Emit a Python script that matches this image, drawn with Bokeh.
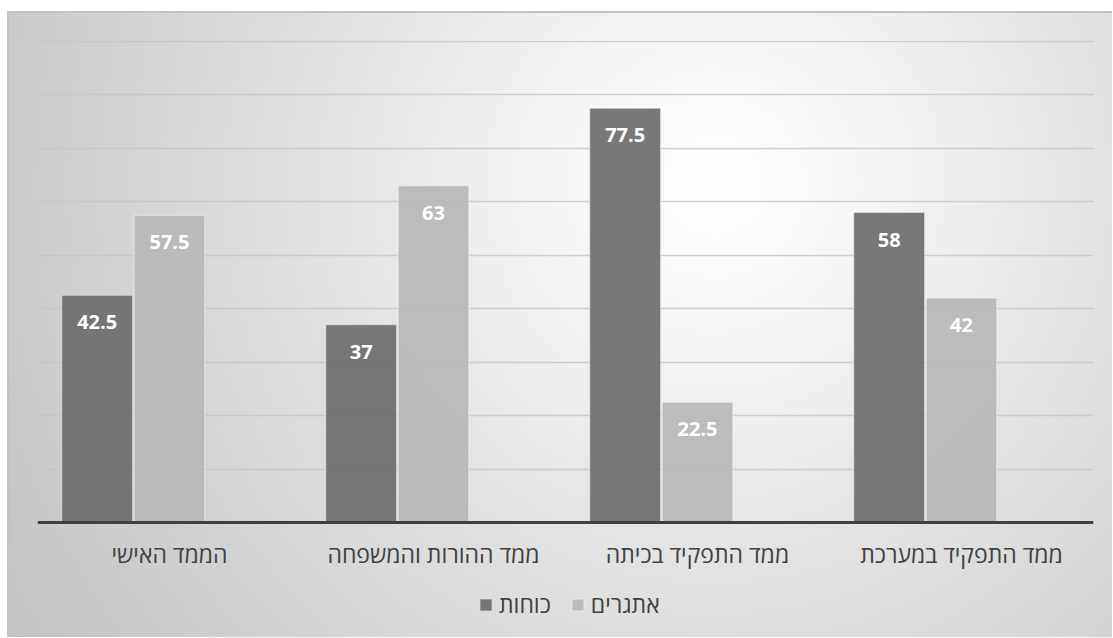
from bokeh.plotting import figure
from bokeh.models import ColumnDataSource, FactorRange, Legend, LegendItem, CategoricalAxis
from bokeh.transform import dodge
from bokeh.core.properties import value
from bokeh.embed import file_html
from bokeh.resources import INLINE

# ---- data ----
categories = ["הממד האישי", "ממד ההורות והמשפחה", "ממד התפקיד בכיתה", "ממד התפקיד במערכת"]
strengths = [42.5, 37, 77.5, 58]      # כוחות
challenges = [57.5, 63, 22.5, 42]     # אתגרים
series_names = ["כוחות", "אתגרים"]
y_grid_ticks = [10, 20, 30, 40, 50, 60, 70, 80, 90]

src = ColumnDataSource(dict(
    cat=categories,
    s=strengths,
    c=challenges,
    s_lbl=[f"{v:g}" for v in strengths],
    c_lbl=[f"{v:g}" for v in challenges],
))

# frame extends below the zero line so the axis labels and legend sit inside it
p = figure(
    x_range=FactorRange(*categories), y_range=(-21.52, 90.19),
    width=1105, height=626, output_backend="svg", toolbar_location=None,
    x_axis_location=None,
    min_border_left=30, min_border_right=19, min_border_top=29, min_border_bottom=0,
)
p.background_fill_alpha = 0
p.border_fill_alpha = 0
p.outline_line_color = None
p.styles = {
    "margin-left": "7px",
    "margin-top": "11px",
    "background": "radial-gradient(circle farthest-corner at 64% 28%, #ffffff 0%, #fbfbfb 10%, #e3e3e3 45%, #c2c2c2 100%)",
    "box-shadow": "inset 1px 1px 0 1px #c2c2c2",
}

dark = "#6e6e6e"
light = "#b8b8b8"
W = 0.268
r1 = p.vbar(x=dodge("cat", -0.274, range=p.x_range), top="s", bottom=0, width=W, source=src,
            fill_color=dark, fill_alpha=0.93, line_color="#e8e8e8", line_alpha=0.6, line_width=1)
r2 = p.vbar(x=dodge("cat", 0.0, range=p.x_range), top="c", bottom=0, width=W, source=src,
            fill_color=light, fill_alpha=0.93, line_color="#f0f0f0", line_alpha=0.8, line_width=1)

lbl_kw = dict(text_color="white", text_font=value("Open Sans"), text_font_style="bold",
              text_font_size="20px", text_align="center", text_baseline="middle", y_offset=27)
p.text(x=dodge("cat", -0.274, range=p.x_range), y="s", text="s_lbl", source=src, **lbl_kw)
p.text(x=dodge("cat", 0.0, range=p.x_range), y="c", text="c_lbl", source=src, **lbl_kw)

# x axis pinned at zero, inside the frame
xa = CategoricalAxis(fixed_location=0)
xa.axis_line_color = "#404040"
xa.axis_line_width = 3
xa.major_tick_line_color = None
xa.minor_tick_line_color = None
xa.major_label_text_font = "Open Sans"
xa.major_label_text_font_size = "23px"
xa.major_label_text_color = "#404040"
xa.major_label_standoff = 10
p.add_layout(xa, "below")

p.yaxis.visible = False
p.xgrid.grid_line_color = None
p.ygrid.ticker = y_grid_ticks
p.ygrid.grid_line_color = "#c4c4c4"
p.ygrid.grid_line_alpha = 0.8
p.ygrid.grid_line_width = 1.5

legend = Legend(
    items=[LegendItem(label=series_names[0], renderers=[r1]),
           LegendItem(label=series_names[1], renderers=[r2])],
    orientation="horizontal", location=(441, 17),
    padding=0, margin=0, spacing=19, label_standoff=6,
    glyph_width=15, glyph_height=15, label_height=20,
    label_text_font="Open Sans", label_text_font_size="23px", label_text_color="#404040",
    background_fill_alpha=0, border_line_color=None,
)
p.add_layout(legend, "center")

open("out.html", "w").write(file_html(p, INLINE))
